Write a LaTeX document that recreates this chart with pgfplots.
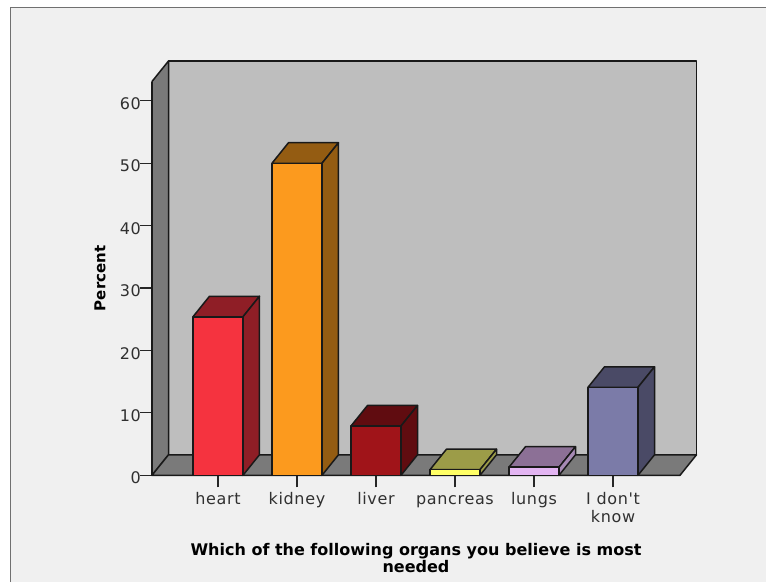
\documentclass[border=0pt]{standalone}
\usepackage{fontspec}
\setmainfont{DejaVu Sans}[LetterSpace=4, Ligatures=TeXOff]
\usepackage{pgfplots}
\pgfplotsset{compat=1.18}

\definecolor{panelbg}{HTML}{F0F0F0}
\definecolor{framegray}{HTML}{707070}
\definecolor{backwall}{HTML}{BEBEBE}
\definecolor{sidewall}{HTML}{7A7A7A}
\definecolor{labelgray}{HTML}{303030}
\definecolor{HeartFront}{HTML}{F5333F}
\definecolor{HeartDark}{HTML}{8F1E26}
\definecolor{KidneyFront}{HTML}{FC9A1E}
\definecolor{KidneyDark}{HTML}{945C12}
\definecolor{LiverFront}{HTML}{A01419}
\definecolor{LiverDark}{HTML}{600C10}
\definecolor{PancreasFront}{HTML}{FFFF66}
\definecolor{PancreasDark}{HTML}{9C9C48}
\definecolor{LungsFront}{HTML}{E3B5F2}
\definecolor{LungsDark}{HTML}{8C7096}
\definecolor{LungsSide}{HTML}{A68AB4}
\definecolor{UnknownFront}{HTML}{7B7BA8}
\definecolor{UnknownDark}{HTML}{4A4A66}

% horizontal and vertical offset of the depth direction, half a bar's width
\newcommand{\dx}{0.209}
\newcommand{\dy}{3.29}
\newcommand{\hw}{0.3165}

% one quadrilateral given by its four corners
\newcommand{\quadface}[9]{%
  \addplot[draw=black!90, line width=1.5pt, line join=round, fill=#9, mark=none]
    coordinates {(#1,#2)(#3,#4)(#5,#6)(#7,#8)} --cycle;%
}

% a box: category position, value, front colour, top colour, side colour
\newcommand{\barbox}[5]{%
  \pgfmathsetmacro{\xl}{#1-\hw}%
  \pgfmathsetmacro{\xr}{#1+\hw}%
  \pgfmathsetmacro{\xlb}{\xl+\dx}%
  \pgfmathsetmacro{\xrb}{\xr+\dx}%
  \pgfmathsetmacro{\yb}{#2+\dy}%
  \edef\drawfaces{%
    \noexpand\quadface{\xl}{#2}{\xr}{#2}{\xrb}{\yb}{\xlb}{\yb}{#4}%
    \noexpand\quadface{\xr}{0}{\xrb}{\dy}{\xrb}{\yb}{\xr}{#2}{#5}%
    \noexpand\quadface{\xl}{0}{\xr}{0}{\xr}{#2}{\xl}{#2}{#3}%
  }\drawfaces
}

\begin{document}
\begin{tikzpicture}[x=1pt,y=1pt]
  \useasboundingbox (0,0) rectangle (766,582);
  \clip (0,0) rectangle (766,582);
  \fill[white] (0,0) rectangle (766,582);
  \fill[panelbg] (10.5,0) rectangle (766,574.5);
  \draw[framegray, line width=1.4pt] (10.5,0) -- (10.5,574.5) -- (766,574.5);

  \begin{axis}[
    at={(152pt,106.7pt)}, anchor=south west,
    scale only axis, width=528pt, height=393.8pt,
    xmin=-0.835, xmax=5.848, ymin=0, ymax=63.1,
    clip=false,
    axis x line=bottom, axis y line=left,
    axis line style={-, black!90, line width=1.3pt},
    xtick={0,1,2,3,4,5},
    xticklabels={heart,kidney,liver,pancreas,lungs,{I don't\\know}},
    ytick={0,10,20,30,40,50,60},
    tick align=outside,
    major tick length=12pt,
    tick style={black!85, line width=1.2pt},
    /pgf/number format/assume math mode=true,
    tick label style={font=\fontsize{16}{18}\selectfont, text=labelgray},
    typeset ticklabels with strut,
    xticklabel style={align=center, inner sep=0pt, yshift=-4pt},
    yticklabel style={inner sep=0pt, xshift=1pt, yshift=-5pt},
    xlabel={Which of the following organs you believe is most\\needed},
    ylabel={Percent},
    every axis x label/.style={at={(axis description cs:0.5,-0.173)}, anchor=north,
      align=center, inner sep=0pt,
      font=\addfontfeature{LetterSpace=0}\bfseries\fontsize{16}{16.5}\selectfont},
    every axis y label/.style={at={(axis description cs:-0.0985,0.5)}, anchor=center,
      rotate=90, inner sep=0pt,
      font=\addfontfeature{LetterSpace=0}\bfseries\fontsize{15}{18}\selectfont},
  ]
    % the walls and floor of the box
    \quadface{-0.626}{3.29}{6.057}{3.29}{6.057}{66.39}{-0.626}{66.39}{backwall}
    \quadface{-0.835}{0}{-0.626}{3.29}{-0.626}{66.39}{-0.835}{63.1}{sidewall}
    \quadface{-0.835}{0}{5.848}{0}{6.057}{3.29}{-0.626}{3.29}{sidewall}

    % percent per organ
    \barbox{0}{25.4}{HeartFront}{HeartDark}{HeartDark}
    \barbox{1}{50.0}{KidneyFront}{KidneyDark}{KidneyDark}
    \barbox{2}{7.9}{LiverFront}{LiverDark}{LiverDark}
    \barbox{3}{0.9}{PancreasFront}{PancreasDark}{PancreasDark}
    \barbox{4}{1.3}{LungsFront}{LungsDark}{LungsSide}
    \barbox{5}{14.1}{UnknownFront}{UnknownDark}{UnknownDark}
  \end{axis}
\end{tikzpicture}
\end{document}
